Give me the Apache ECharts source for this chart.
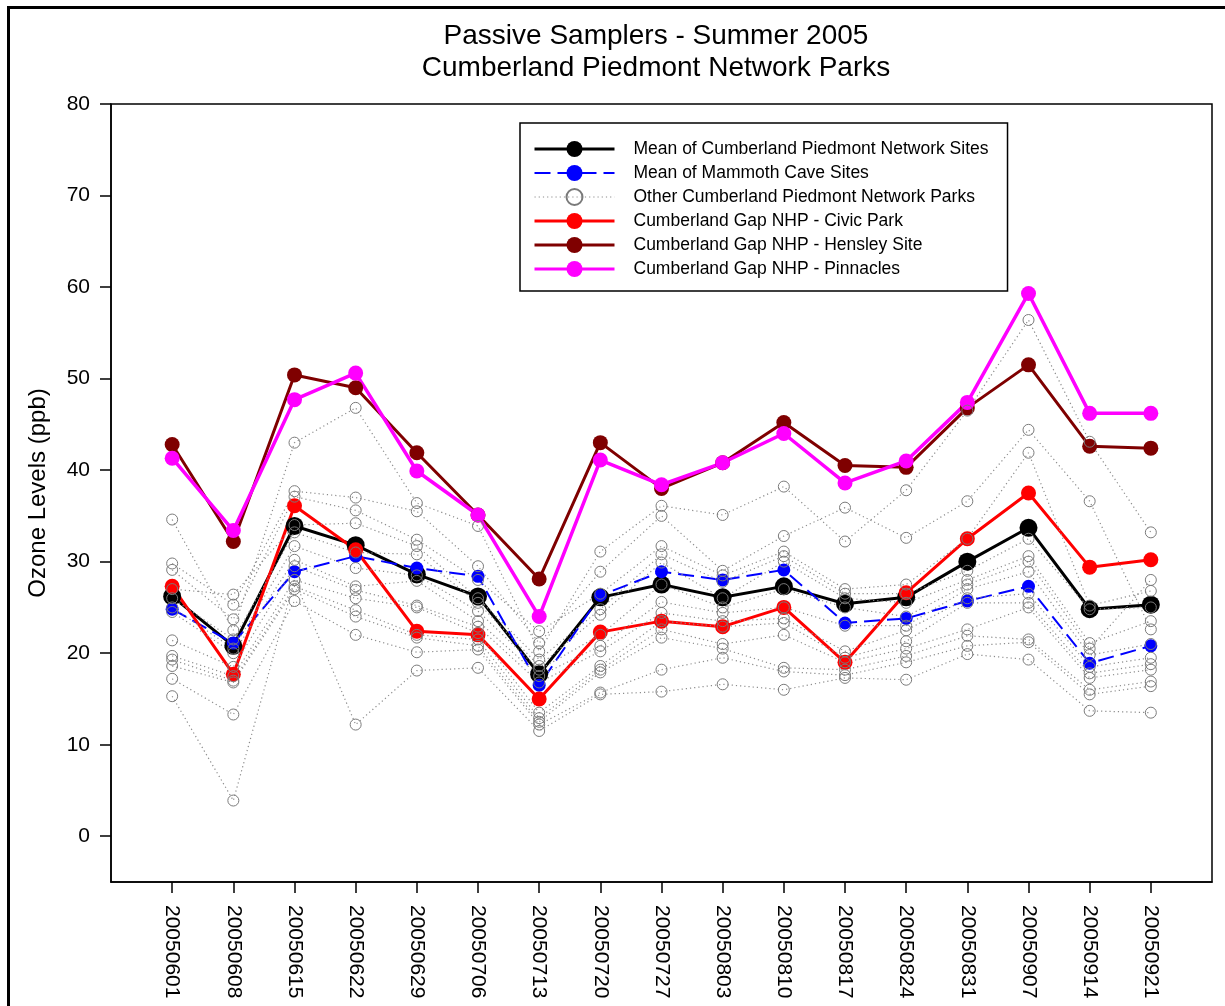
<!DOCTYPE html>
<html>
<head>
<meta charset="utf-8">
<script src="https://cdn.jsdelivr.net/npm/echarts/dist/echarts.min.js"></script>
<style>
  html, body { margin: 0; padding: 0; background: #fff; overflow: hidden; }
  #frame { position: absolute; left: 7px; top: 6px; width: 1400px; height: 1200px; border: 3px solid #000; box-sizing: border-box; }
  #main { position: absolute; left: 0; top: 0; width: 1225px; height: 1006px; }
</style>
</head>
<body>
<div id="frame"></div>
<div id="main"></div>
<script>
// sampling dates (x categories)
const dates = ['20050601', '20050608', '20050615', '20050622', '20050629', '20050706', '20050713', '20050720', '20050727',
  '20050803', '20050810', '20050817', '20050824', '20050831', '20050907', '20050914', '20050921'];

const meanCPN   = [26.2, 20.8, 33.9, 31.8, 28.6, 26.2, 17.7, 26.1, 27.5, 26.1, 27.3, 25.4, 26.1, 30.0, 33.7, 24.8, 25.3];
const meanMC    = [24.8, 21.1, 28.9, 30.6, 29.3, 28.4, 16.5, 26.3, 28.9, 28.0, 29.1, 23.3, 23.8, 25.7, 27.3, 18.9, 20.8];
const civicPark = [27.3, 17.7, 36.1, 31.3, 22.4, 22.0, 15.0, 22.3, 23.5, 22.9, 25.0, 19.0, 26.6, 32.5, 37.5, 29.4, 30.2];
const hensley   = [42.8, 32.2, 50.4, 49.0, 41.9, 35.1, 28.1, 43.0, 38.0, 40.8, 45.2, 40.5, 40.3, 46.8, 51.5, 42.6, 42.4];
const pinnacles = [41.3, 33.4, 47.7, 50.6, 39.9, 35.1, 24.0, 41.1, 38.4, 40.8, 44.0, 38.6, 41.0, 47.4, 59.3, 46.2, 46.2];

// other parks, one row per site
const otherParks = [
  [34.6, 22.5, 43.0, 46.8, 36.4, 33.9, 20.2, 31.1, 36.1, 35.1, 38.2, 32.2, 37.8, 46.5, 56.4, 43.1, 33.2],
  [29.8, 25.3, 37.7, 37.0, 35.5, 29.5, 21.1, 28.9, 35.0, 29.0, 32.8, 35.9, 32.6, 36.6, 44.4, 36.6, 22.6],
  [29.1, 23.7, 37.1, 35.6, 32.4, 28.0, 22.4, 26.5, 31.7, 28.5, 31.1, 27.0, 27.5, 32.5, 41.9, 25.2, 26.8],
  [27.0, 26.4, 34.0, 34.2, 31.7, 26.0, 19.3, 24.8, 30.8, 27.8, 30.6, 26.5, 26.5, 29.0, 32.5, 24.8, 25.0],
  [26.0, 21.5, 33.2, 31.0, 30.8, 25.5, 18.6, 24.2, 29.9, 26.0, 30.0, 26.0, 25.5, 28.0, 30.6, 21.1, 23.5],
  [25.0, 20.5, 31.7, 29.3, 28.5, 24.6, 18.2, 22.0, 27.5, 25.0, 27.0, 25.0, 24.0, 27.5, 30.0, 20.5, 28.0],
  [24.5, 20.0, 30.2, 27.3, 27.9, 23.5, 17.5, 20.8, 25.6, 24.4, 25.0, 23.0, 23.0, 27.0, 28.9, 19.8, 21.0],
  [21.4, 18.5, 29.5, 26.9, 25.2, 22.9, 16.8, 20.2, 24.4, 23.5, 23.8, 20.2, 22.5, 26.0, 26.5, 18.5, 19.5],
  [19.7, 17.5, 28.0, 26.0, 25.0, 22.2, 13.5, 18.6, 23.5, 22.9, 23.3, 19.5, 21.3, 25.5, 25.5, 17.8, 18.8],
  [19.3, 17.0, 27.3, 24.7, 22.0, 21.5, 12.9, 18.2, 22.6, 21.0, 22.0, 19.0, 20.5, 22.6, 25.0, 17.3, 18.2],
  [18.6, 16.8, 27.0, 24.0, 21.7, 20.8, 12.5, 17.9, 21.7, 20.5, 18.4, 18.2, 19.7, 21.9, 21.5, 16.0, 16.9],
  [17.2, 13.3, 25.7, 22.0, 20.1, 20.4, 12.2, 15.7, 18.2, 19.5, 18.0, 17.6, 19.0, 20.8, 21.2, 15.5, 16.4],
  [15.3, 3.9, 28.0, 12.2, 18.1, 18.4, 11.5, 15.5, 15.8, 16.6, 16.0, 17.3, 17.1, 19.9, 19.3, 13.7, 13.5]
];

const yTicks = [0, 10, 20, 30, 40, 50, 60, 70, 80];
const xTicks = dates.map((d, i) => i + 1);

const FONT = 'Liberation Sans, Arial, sans-serif';
const OTHER = 'Other Cumberland Piedmont Network Parks';

function pts(arr) {
  return arr.map((v, i) => [i + 1, v]);
}

function mainLine(name, values, color, width, size, dash) {
  return {
    name: name,
    type: 'line',
    data: pts(values),
    symbol: 'circle',
    symbolSize: size,
    lineStyle: { color: color, width: width, type: dash || 'solid' },
    itemStyle: { color: color },
    emphasis: { disabled: true }
  };
}

let series = [
  mainLine('Mean of Cumberland Piedmont Network Sites', meanCPN, '#000000', 3, 18),
  mainLine('Mean of Mammoth Cave Sites', meanMC, '#0000ff', 2, 13, [16, 7]),
  mainLine('Cumberland Gap NHP - Civic Park', civicPark, '#ff0000', 3, 15),
  mainLine('Cumberland Gap NHP - Hensley Site', hensley, '#7f0000', 3, 15),
  mainLine('Cumberland Gap NHP - Pinnacles', pinnacles, '#ff00ff', 3.5, 15)
];

// other parks drawn last so their hollow rings sit on top
otherParks.forEach(function (row) {
  series.push({
    name: OTHER,
    type: 'line',
    data: pts(row),
    symbol: 'circle',
    symbolSize: 11,
    lineStyle: { color: '#8c8c8c', width: 1.2, type: [1.2, 3] },
    itemStyle: { color: 'rgba(0,0,0,0)', borderColor: '#7a7a7a', borderWidth: 1 },
    emphasis: { disabled: true }
  });
});

let myChart = echarts.init(document.getElementById('main'));
myChart.setOption({
  animation: false,
  backgroundColor: 'transparent',
  textStyle: { fontFamily: FONT, color: '#000' },
  title: {
    text: 'Passive Samplers - Summer 2005\nCumberland Piedmont Network Parks',
    left: 656,
    top: 20,
    padding: 0,
    textAlign: 'center',
    textStyle: { fontFamily: FONT, fontSize: 28, fontWeight: 'normal', lineHeight: 32, color: '#000' }
  },
  legend: {
    orient: 'vertical',
    left: 520,
    top: 123,
    padding: [16, 19, 12, 13],
    itemWidth: 80,
    itemHeight: 20,
    itemGap: 4,
    borderColor: '#000',
    borderWidth: 1.5,
    backgroundColor: '#fff',
    selectedMode: false,
    textStyle: { fontFamily: FONT, fontSize: 17.5, lineHeight: 20, color: '#000', padding: [0, 0, 0, 14] },
    data: [
      { name: 'Mean of Cumberland Piedmont Network Sites', lineStyle: { width: 3 } },
      { name: 'Mean of Mammoth Cave Sites', lineStyle: { width: 2 } },
      { name: OTHER, lineStyle: { width: 1 } },
      { name: 'Cumberland Gap NHP - Civic Park', lineStyle: { width: 3 } },
      { name: 'Cumberland Gap NHP - Hensley Site', lineStyle: { width: 3 } },
      { name: 'Cumberland Gap NHP - Pinnacles', lineStyle: { width: 3 } }
    ]
  },
  grid: {
    left: 111,
    right: 13,
    top: 104,
    bottom: 124,
    show: true,
    borderColor: '#000',
    borderWidth: 1.5
  },
  xAxis: {
    type: 'value',
    min: 0,
    max: 18,
    splitLine: { show: false },
    axisLine: { show: true, onZero: false, lineStyle: { color: '#000', width: 1.5 } },
    axisTick: { show: true, length: 11, customValues: xTicks, lineStyle: { color: '#000', width: 1.5 } },
    axisLabel: {
      customValues: xTicks,
      rotate: -90,
      margin: 23,
      fontSize: 21,
      fontFamily: FONT,
      color: '#000',
      formatter: function (v) { return dates[v - 1] || ''; }
    }
  },
  yAxis: {
    type: 'value',
    min: -5,
    max: 80,
    name: 'Ozone Levels (ppb)',
    nameLocation: 'middle',
    nameGap: 61,
    nameTextStyle: { fontFamily: FONT, fontSize: 24, color: '#000' },
    splitLine: { show: false },
    axisLine: { show: true, lineStyle: { color: '#000', width: 1.5 } },
    axisTick: { show: true, length: 11, customValues: yTicks, lineStyle: { color: '#000', width: 1.5 } },
    axisLabel: { customValues: yTicks, margin: 21, fontSize: 21, fontFamily: FONT, color: '#000' }
  },
  series: series
});
</script>
</body>
</html>
